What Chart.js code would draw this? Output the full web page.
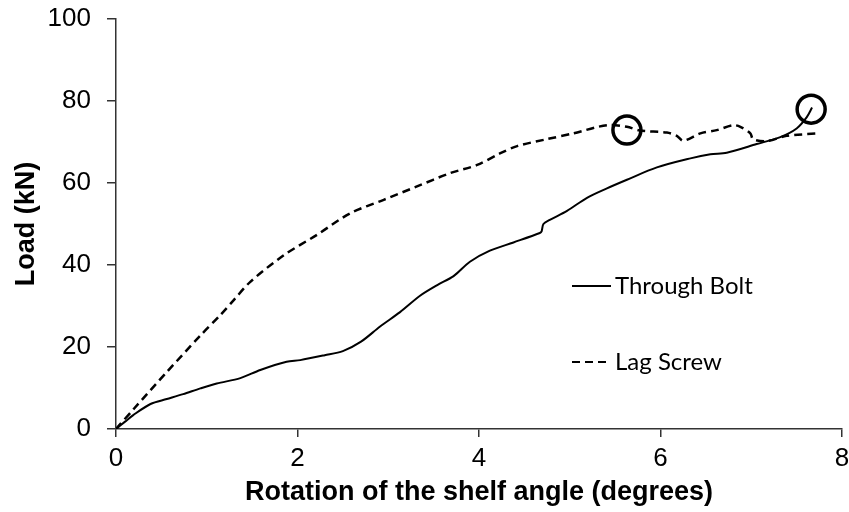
<!DOCTYPE html>
<html>
<head>
<meta charset="utf-8">
<script src="https://cdn.jsdelivr.net/npm/chart.js@4.4.0/dist/chart.umd.min.js"></script>
<style>
    html, body { margin: 0; padding: 0; background: #fff; }
</style>
</head>
<body>
<canvas id="chart" width="849" height="512"></canvas>
<script>
// Through Bolt (solid line)
const boltX = [0, 0.1, 0.19, 0.38, 0.56, 0.74, 0.93, 1.11, 1.37, 1.59, 1.88, 2.03, 2.3, 2.5, 2.7, 2.91, 3.13, 3.35, 3.54, 3.72, 3.9, 4.12, 4.38, 4.67, 4.69, 4.71, 4.78, 4.97, 5.19, 5.41, 5.63, 5.96, 6.33, 6.55, 6.73, 7.06, 7.32, 7.5, 7.61, 7.67];
const boltY = [0, 1.8, 3.4, 6.1, 7.3, 8.5, 9.9, 11.1, 12.4, 14.4, 16.4, 16.8, 18.0, 19.0, 21.3, 25.0, 28.5, 32.5, 35.1, 37.3, 40.8, 43.5, 45.5, 47.8, 48.2, 50.0, 51.0, 53.2, 56.4, 58.7, 60.8, 63.8, 66.0, 67.0, 67.4, 69.5, 71.2, 73.3, 76.0, 78.4];

// Lag Screw (dashed line)
const lagX = [0, 0.2, 0.56, 0.93, 1.15, 1.3, 1.48, 1.85, 2.21, 2.58, 2.95, 3.31, 3.68, 3.98, 4.23, 4.42, 4.75, 5.04, 5.41, 5.63, 5.77, 6.07, 6.18, 6.25, 6.44, 6.62, 6.8, 6.88, 6.99, 7.02, 7.17, 7.39, 7.74];
const lagY = [0, 5, 13.9, 22.8, 27.8, 31.5, 35.9, 42.4, 47.3, 52.6, 55.9, 59.1, 62.4, 64.4, 67.2, 69.0, 70.7, 72.1, 74.1, 73.7, 72.8, 72.3, 71.5, 70.3, 72.1, 72.9, 74.1, 73.7, 72.1, 70.7, 70.2, 71.5, 72.1];

// failure points (circled)
const failX = [5.63, 7.66];
const failY = [72.9, 78.0];

const xTicks = [0, 2, 4, 6, 8];
const yTicks = [0, 20, 40, 60, 80, 100];

function pts(xs, ys) {
    return xs.map((x, i) => ({ x: x, y: ys[i] }));
}

Chart.defaults.font.family = "'Liberation Sans', Arial, sans-serif";
Chart.defaults.color = "#000";

// legend drawn inside the plot, like the original
const insideLegend = {
    id: "insideLegend",
    afterDraw(c) {
        const ctx = c.ctx;
        const items = [
            { label: "Through Bolt", dash: [], y: 286 },
            { label: "Lag Screw", dash: [8, 5], y: 362 }
        ];
        ctx.save();
        ctx.font = "24px Lato";
        ctx.fillStyle = "#000";
        ctx.strokeStyle = "#000";
        ctx.lineWidth = 2;
        ctx.textBaseline = "middle";
        items.forEach(it => {
            ctx.setLineDash(it.dash);
            ctx.beginPath();
            ctx.moveTo(572, it.y);
            ctx.lineTo(611, it.y);
            ctx.stroke();
            ctx.fillText(it.label, 615, it.y);
        });
        ctx.restore();
    }
};

new Chart(document.getElementById("chart"), {
    type: "scatter",
    data: {
        datasets: [
            {
                label: "Through Bolt",
                data: pts(boltX, boltY),
                showLine: true,
                borderColor: "#000",
                borderWidth: 2,
                pointRadius: 0,
                tension: 0.3
            },
            {
                label: "Lag Screw",
                data: pts(lagX, lagY),
                showLine: true,
                borderColor: "#000",
                borderWidth: 2.5,
                borderDash: [8, 5],
                pointRadius: 0,
                tension: 0.3
            },
            {
                label: "Failure",
                data: pts(failX, failY),
                showLine: false,
                pointStyle: "circle",
                pointRadius: 14,
                pointBorderWidth: 3.5,
                pointBorderColor: "#000",
                pointBackgroundColor: "rgba(0,0,0,0)"
            }
        ]
    },
    options: {
        responsive: false,
        animation: false,
        devicePixelRatio: 1,
        layout: { autoPadding: false, padding: { top: 19, right: 7, left: 0, bottom: 0 } },
        plugins: {
            legend: { display: false },
            tooltip: { enabled: false }
        },
        scales: {
            x: {
                type: "linear",
                min: 0,
                max: 8,
                afterBuildTicks: s => { s.ticks = xTicks.map(v => ({ value: v })); },
                afterFit: s => { s.height = 83; s.paddingRight = 0; s.paddingLeft = 0; },
                ticks: { font: { size: 26 }, padding: 6, color: "#000", maxRotation: 0 },
                grid: { drawOnChartArea: false, drawTicks: true, tickLength: 8, color: "#333", lineWidth: 1.5 },
                border: { color: "#333", width: 1.5 },
                title: {
                    display: true,
                    text: "Rotation of the shelf angle (degrees)",
                    font: { size: 27, weight: "bold" },
                    padding: { top: 0, bottom: 3 }
                }
            },
            y: {
                type: "linear",
                min: 0,
                max: 100,
                afterBuildTicks: s => { s.ticks = yTicks.map(v => ({ value: v })); },
                afterFit: s => { s.width = 116; s.paddingTop = 0; s.paddingBottom = 0; },
                ticks: { font: { size: 26 }, padding: 16, color: "#000" },
                grid: { drawOnChartArea: false, drawTicks: true, tickLength: 9, color: "#333", lineWidth: 1.5 },
                border: { color: "#333", width: 1.5 },
                title: {
                    display: true,
                    text: "Load (kN)",
                    font: { size: 27, weight: "bold" },
                    padding: { top: 10, bottom: 0 }
                }
            }
        }
    },
    plugins: [insideLegend]
});
</script>
</body>
</html>
